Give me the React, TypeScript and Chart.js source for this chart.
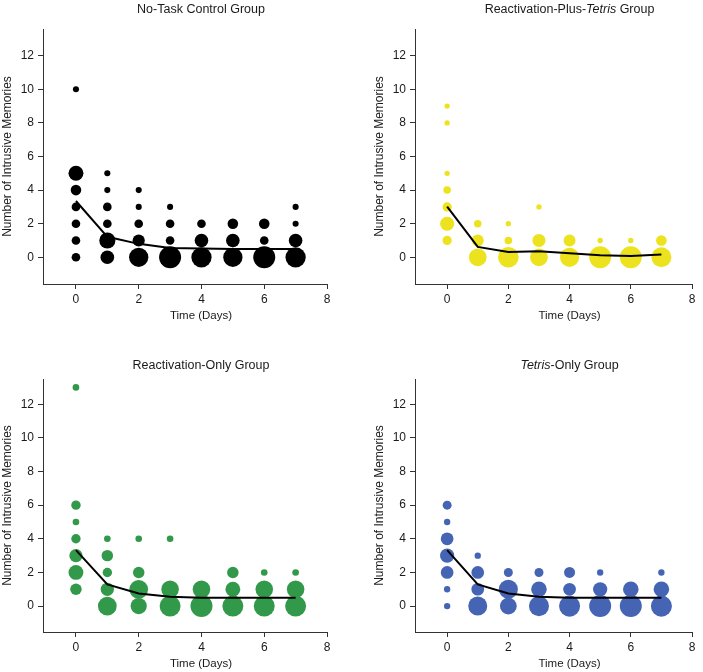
import React, { useEffect, useRef } from "react";
import { Chart, registerables } from "chart.js";

Chart.register(...registerables);

const days = [0, 1, 2, 3, 4, 5, 6, 7];
const xTickValues = [0, 2, 4, 6, 8];
const yTickValues = [0, 2, 4, 6, 8, 10, 12];

// [day, number of intrusive memories, number of participants]
const controlCounts = [
  [0, 10, 1], [0, 5, 6], [0, 4, 3], [0, 3, 2], [0, 2, 2], [0, 1, 2], [0, 0, 2],
  [1, 5, 1], [1, 4, 1], [1, 3, 2], [1, 2, 2], [1, 1, 7], [1, 0, 5],
  [2, 4, 1], [2, 3, 1], [2, 2, 2], [2, 1, 4], [2, 0, 10],
  [3, 3, 1], [3, 2, 2], [3, 1, 2], [3, 0, 13],
  [4, 2, 2], [4, 1, 5], [4, 0, 11],
  [5, 2, 3], [5, 1, 5], [5, 0, 10],
  [6, 2, 3], [6, 1, 2], [6, 0, 13],
  [7, 3, 1], [7, 2, 1], [7, 1, 5], [7, 0, 11],
];
const controlMean = [3.35, 1.22, 0.8, 0.56, 0.52, 0.5, 0.5, 0.5];

const reactTetrisCounts = [
  [0, 9, 1], [0, 8, 1], [0, 5, 1], [0, 4, 2], [0, 3, 3], [0, 2, 7], [0, 1, 3],
  [1, 2, 2], [1, 1, 5], [1, 0, 11],
  [2, 2, 1], [2, 1, 2], [2, 0, 15],
  [3, 3, 1], [3, 1, 6], [3, 0, 11],
  [4, 1, 5], [4, 0, 13],
  [5, 1, 1], [5, 0, 17],
  [6, 1, 1], [6, 0, 17],
  [7, 1, 4], [7, 0, 14],
];
const reactTetrisMean = [3.02, 0.62, 0.32, 0.36, 0.24, 0.12, 0.08, 0.16];

const reactOnlyCounts = [
  [0, 13, 1], [0, 6, 2], [0, 5, 1], [0, 4, 2], [0, 3, 4], [0, 2, 5], [0, 1, 3],
  [1, 4, 1], [1, 3, 3], [1, 2, 2], [1, 1, 4], [1, 0, 8],
  [2, 4, 1], [2, 2, 3], [2, 1, 8], [2, 0, 6],
  [3, 4, 1], [3, 1, 7], [3, 0, 10],
  [4, 1, 7], [4, 0, 11],
  [5, 2, 3], [5, 1, 5], [5, 0, 10],
  [6, 2, 1], [6, 1, 7], [6, 0, 10],
  [7, 2, 1], [7, 1, 7], [7, 0, 10],
];
const reactOnlyMean = [3.33, 1.29, 0.75, 0.55, 0.5, 0.5, 0.5, 0.5];

const tetrisOnlyCounts = [
  [0, 6, 2], [0, 5, 1], [0, 4, 4], [0, 3, 5], [0, 2, 4], [0, 1, 1], [0, 0, 1],
  [1, 3, 1], [1, 2, 4], [1, 1, 4], [1, 0, 9],
  [2, 2, 2], [2, 1, 9], [2, 0, 7],
  [3, 2, 2], [3, 1, 6], [3, 0, 10],
  [4, 2, 3], [4, 1, 4], [4, 0, 11],
  [5, 2, 1], [5, 1, 5], [5, 0, 12],
  [6, 1, 6], [6, 0, 12],
  [7, 2, 1], [7, 1, 6], [7, 0, 11],
];
const tetrisOnlyMean = [3.33, 1.29, 0.75, 0.55, 0.5, 0.5, 0.5, 0.5];

const FONT = "'Liberation Sans', Arial, sans-serif";
const TEXT_COLOR = "#1a1a1a";
const AXIS_COLOR = "#333333";
const R_MAX = 11;

type Seg = { text: string; italic?: boolean };
type Panel = {
  title: Seg[];
  counts: number[][];
  mean: number[];
  color: string;
  left: number;
  top: number;
  width: number;
  height: number;
  padLeft: number;
  chartTop: number;
  padRight: number;
  xAxisHeight: number;
  yMin: number;
  yMax: number;
  titleBaseline: number;
};

const panels: Panel[] = [
  {
    title: [{ text: "No-Task Control Group" }],
    counts: controlCounts, mean: controlMean, color: "#000000",
    left: 0, top: 0, width: 351, height: 336,
    padLeft: 0, chartTop: 29, padRight: 24, xAxisHeight: 52,
    yMin: -1.59, yMax: 13.59, titleBaseline: 13,
  },
  {
    title: [{ text: "Reactivation-Plus-" }, { text: "Tetris", italic: true }, { text: " Group" }],
    counts: reactTetrisCounts, mean: reactTetrisMean, color: "#ece31e",
    left: 352, top: 0, width: 351, height: 336,
    padLeft: 20, chartTop: 29, padRight: 5, xAxisHeight: 52,
    yMin: -1.59, yMax: 13.59, titleBaseline: 13,
  },
  {
    title: [{ text: "Reactivation-Only Group" }],
    counts: reactOnlyCounts, mean: reactOnlyMean, color: "#33994a",
    left: 0, top: 336, width: 351, height: 336,
    padLeft: 0, chartTop: 43, padRight: 24, xAxisHeight: 40,
    yMin: -1.54, yMax: 13.5, titleBaseline: 33,
  },
  {
    title: [{ text: "Tetris", italic: true }, { text: "-Only Group" }],
    counts: tetrisOnlyCounts, mean: tetrisOnlyMean, color: "#4565b4",
    left: 352, top: 336, width: 351, height: 336,
    padLeft: 20, chartTop: 43, padRight: 5, xAxisHeight: 40,
    yMin: -1.54, yMax: 13.5, titleBaseline: 33,
  },
];

function PanelChart({ p }: { p: Panel }) {
  const ref = useRef<HTMLCanvasElement | null>(null);
  useEffect(() => {
    if (!ref.current) return;
    const maxN = Math.max(...p.counts.map((c) => c[2]));
    const textPlugin = {
      id: "panelText",
      afterDraw(chart: any) {
        const ctx = chart.ctx as CanvasRenderingContext2D;
        const area = chart.chartArea;
        const cx = (area.left + area.right) / 2 + 16;
        ctx.save();
        ctx.fillStyle = TEXT_COLOR;
        ctx.textBaseline = "alphabetic";
        ctx.textAlign = "left";
        const fontFor = (s: Seg) => `${s.italic ? "italic " : ""}12.5px ${FONT}`;
        let total = 0;
        for (const s of p.title) {
          ctx.font = fontFor(s);
          total += ctx.measureText(s.text).width;
        }
        let x = cx - total / 2;
        for (const s of p.title) {
          ctx.font = fontFor(s);
          ctx.fillText(s.text, x, p.titleBaseline);
          x += ctx.measureText(s.text).width;
        }
        ctx.font = `11.5px ${FONT}`;
        ctx.textAlign = "center";
        ctx.fillText("Time (Days)", cx, area.bottom + 35);
        ctx.restore();
      },
    };
    const chart = new Chart(ref.current, {
      type: "bubble",
      data: {
        datasets: [
          {
            type: "line",
            data: p.mean.map((y, i) => ({ x: days[i], y })),
            borderColor: "#000000",
            borderWidth: 2,
            pointRadius: 0,
            pointHoverRadius: 0,
            fill: false,
            tension: 0,
          } as any,
          {
            type: "bubble",
            data: p.counts.map(([d, v, n]) => ({ x: d, y: v, r: R_MAX * Math.sqrt(n / maxN) })),
            backgroundColor: p.color,
            borderWidth: 0,
            hoverRadius: 0,
          } as any,
        ],
      },
      options: {
        responsive: false,
        animation: false,
        devicePixelRatio: 1,
        events: [],
        layout: { padding: { left: p.padLeft, top: p.chartTop, right: p.padRight, bottom: 0 } },
        plugins: { legend: { display: false }, tooltip: { enabled: false }, title: { display: false } },
        scales: {
          x: {
            type: "linear",
            min: -1.05,
            max: 8,
            afterBuildTicks: (s: any) => {
              s.ticks = xTickValues.map((v) => ({ value: v }));
            },
            afterFit: (s: any) => {
              s.height = p.xAxisHeight;
              s.paddingLeft = 0;
              s.paddingRight = 0;
            },
            grid: { drawOnChartArea: false, drawTicks: true, tickLength: 5, color: AXIS_COLOR },
            border: { display: true, color: AXIS_COLOR, width: 1 },
            ticks: { font: { family: FONT, size: 12 }, color: TEXT_COLOR, padding: 3, maxRotation: 0 },
          },
          y: {
            type: "linear",
            min: p.yMin,
            max: p.yMax,
            afterBuildTicks: (s: any) => {
              s.ticks = yTickValues.map((v) => ({ value: v }));
            },
            afterFit: (s: any) => {
              s.width = 43;
              s.paddingTop = 0;
              s.paddingBottom = 0;
            },
            grid: { drawOnChartArea: false, drawTicks: true, tickLength: 5, color: AXIS_COLOR },
            border: { display: true, color: AXIS_COLOR, width: 1 },
            ticks: { font: { family: FONT, size: 12 }, color: TEXT_COLOR, padding: 4 },
            title: {
              display: true,
              text: "Number of Intrusive Memories",
              font: { family: FONT, size: 12, lineHeight: 1.2 },
              color: TEXT_COLOR,
              padding: 0,
            },
          },
        },
      },
      plugins: [textPlugin],
    } as any);
    return () => chart.destroy();
  }, [p]);
  return (
    <canvas
      ref={ref}
      width={p.width}
      height={p.height}
      style={{ position: "absolute", left: p.left, top: p.top, width: p.width, height: p.height }}
    />
  );
}

export default function App() {
  return (
    <div style={{ position: "absolute", left: 0, top: 0, width: 703, height: 672, background: "#ffffff" }}>
      {panels.map((p, i) => (
        <PanelChart key={i} p={p} />
      ))}
    </div>
  );
}
